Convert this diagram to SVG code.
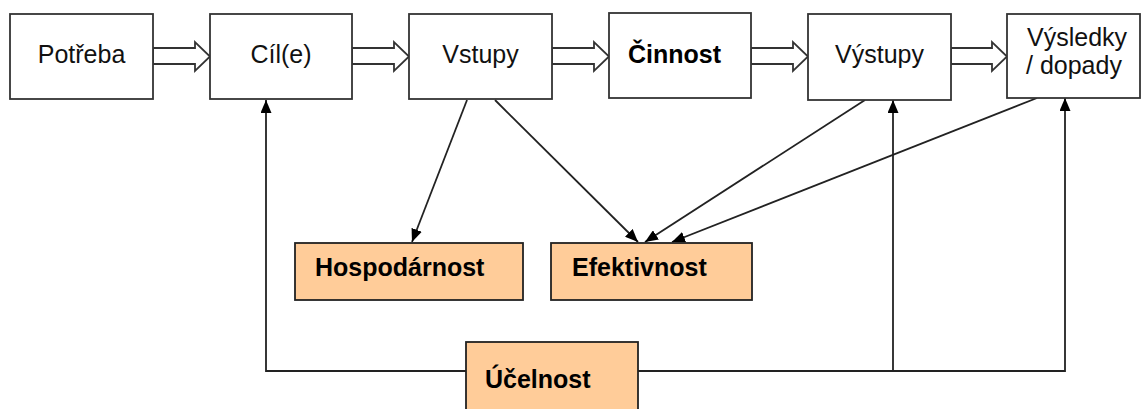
<svg xmlns="http://www.w3.org/2000/svg" width="1141" height="409" viewBox="0 0 1141 409">
<style>
.box{fill:#fff;stroke:#333;stroke-width:1.8}
.obox{fill:#ffcc99;stroke:#222;stroke-width:1.8}
.t{font-family:"Liberation Sans",Arial,sans-serif;font-size:25px;fill:#111}
.b{font-family:"Liberation Sans",Arial,sans-serif;font-size:25px;font-weight:bold;fill:#000}
.hol{fill:#fff;stroke:#333;stroke-width:1.8;stroke-linejoin:miter}
.ln{fill:none;stroke:#222;stroke-width:1.8}
</style>
<defs>
<marker id="ah" markerWidth="13" markerHeight="11" refX="13" refY="5.5" orient="auto" markerUnits="userSpaceOnUse">
<path d="M0,0 L13,5.5 L0,11 z" fill="#000"/>
</marker>
</defs>
<rect width="1141" height="409" fill="#fff"/>
<g id="connectors">
<polygon class="hol" points="153,48 195,48 195,42 210,56.5 195,71 195,64 153,64"/>
<polygon class="hol" points="352,48 394,48 394,42 409,56.5 394,71 394,64 352,64"/>
<polygon class="hol" points="552,48 594,48 594,42 609,56.5 594,71 594,64 552,64"/>
<polygon class="hol" points="751,48 793,48 793,42 808,56.5 793,71 793,64 751,64"/>
<polygon class="hol" points="951,48 992,48 992,42 1007,56.5 992,71 992,64 951,64"/>
<line class="ln" x1="467" y1="100" x2="412" y2="242" marker-end="url(#ah)"/>
<line class="ln" x1="495" y1="100" x2="638" y2="242" marker-end="url(#ah)"/>
<line class="ln" x1="865" y1="100" x2="645" y2="242" marker-end="url(#ah)"/>
<line class="ln" x1="1037" y1="98" x2="672" y2="242" marker-end="url(#ah)"/>
<polyline class="ln" points="466,371 266,371 266,100" marker-end="url(#ah)"/>
<polyline class="ln" points="638,371 1065,371 1065,98" marker-end="url(#ah)"/>
<line class="ln" x1="893" y1="371" x2="893" y2="100" marker-end="url(#ah)"/>
</g>
<g id="potreba"><rect class="box" x="10" y="14" width="143" height="85"/><text class="t" x="81.5" y="63" text-anchor="middle">Potřeba</text></g>
<g id="cile"><rect class="box" x="210" y="14" width="142" height="85"/><text class="t" x="281" y="63" text-anchor="middle">Cíl(e)</text></g>
<g id="vstupy"><rect class="box" x="409" y="14" width="143" height="85"/><text class="t" x="480.5" y="63" text-anchor="middle">Vstupy</text></g>
<g id="cinnost"><rect class="box" x="609" y="13" width="142" height="85"/><text class="b" x="628" y="63">Činnost</text></g>
<g id="vystupy"><rect class="box" x="808" y="14" width="143" height="86"/><text class="t" x="879.5" y="63" text-anchor="middle">Výstupy</text></g>
<g id="vysledky"><rect class="box" x="1007" y="14" width="133" height="84"/><text class="t" x="1027" y="46">Výsledky</text><text class="t" x="1026" y="74">/ dopady</text></g>
<g id="hospodarnost"><rect class="obox" x="295" y="243" width="228" height="57"/><text class="b" x="315" y="276">Hospodárnost</text></g>
<g id="efektivnost"><rect class="obox" x="551" y="243" width="201" height="57"/><text class="b" x="572" y="276">Efektivnost</text></g>
<g id="ucelnost"><rect class="obox" x="466" y="342" width="172" height="80"/><text class="b" x="485" y="388">Účelnost</text></g>
</svg>
